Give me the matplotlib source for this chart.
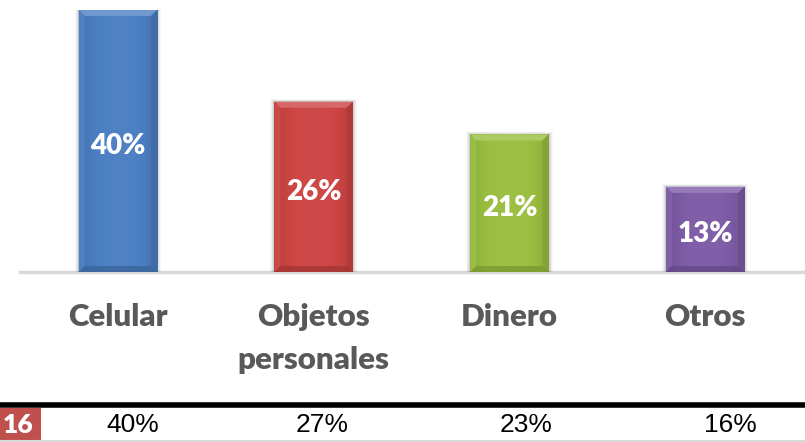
import numpy as np
from matplotlib import pyplot as plt
from matplotlib.patches import Rectangle, Polygon
from matplotlib.colors import to_rgb

categories = ["Celular", "Objetos\npersonales", "Dinero", "Otros"]
values = [40, 26, 21, 13]
labels = ["40%", "26%", "21%", "13%"]
colors = ["#4A7EC2", "#CC4442", "#99BE3F", "#7D5BA6"]
table_head = "16"
table_values = ["40%", "27%", "23%", "16%"]

W, H = 805, 442
fig = plt.figure(figsize=[W / 100, H / 100], dpi=100)
ax = fig.add_axes([20 / W, (H - 272) / H, 783 / W, (272 - 10) / H])
ax.set_xlim(-0.5, len(values) - 0.5)
ax.set_ylim(0, 40)
ax.axis("off")

bw = 0.4
x = np.arange(len(values))
font = "Lato"
heavy = 800


def shade(c, f):
    c = np.array(to_rgb(c))
    if f > 0:
        return tuple(c + (1 - c) * f)
    return tuple(c * (1 + f))


px_x = len(values) / 783  # data units per pixel in x
px_y = 40 / 262

for i, (v, c) in enumerate(zip(values, colors)):
    x0 = x[i] - bw / 2
    # soft shadow
    for k, a in [(4, 0.03), (3, 0.04), (2, 0.05), (1, 0.07)]:
        ax.add_patch(Rectangle((x0 - k * px_x, -k * px_y * 0.3), bw + 2 * k * px_x,
                               v + k * px_y, color="k", alpha=a, lw=0, zorder=1))
    bar = ax.bar(x[i], v, width=bw, color=c, zorder=2, lw=0)[0]
    # gentle horizontal gradient
    t = np.linspace(0, 1, 64)
    prof = 1 - 0.25 * np.abs(t - 0.5) ** 3 * 8
    img = np.array([[shade(c, (p - 1) * 0.6 + 0.03) for p in prof]])
    im = ax.imshow(img, extent=[x0, x0 + bw, 0, v], aspect="auto", zorder=3,
                   interpolation="bicubic")
    im.set_clip_path(bar)
    # bevel
    bx, by = 6 * px_x, 6 * px_y
    ax.add_patch(Polygon([[x0, v], [x0 + bw, v], [x0 + bw - bx, v - by], [x0 + bx, v - by]],
                         color=shade(c, 0.2), lw=0, zorder=4))
    ax.add_patch(Polygon([[x0, v], [x0 + bx, v - by], [x0 + bx, by], [x0, 0]],
                         color=shade(c, 0.05), lw=0, zorder=4, alpha=0.8))
    ax.add_patch(Polygon([[x0 + bw, v], [x0 + bw - bx, v - by], [x0 + bw - bx, by], [x0 + bw, 0]],
                         color=shade(c, -0.15), lw=0, zorder=4, alpha=0.8))
    ax.add_patch(Polygon([[x0, 0], [x0 + bx, by], [x0 + bw - bx, by], [x0 + bw, 0]],
                         color=shade(c, -0.2), lw=0, zorder=4, alpha=0.8))
    ax.text(x[i], v / 2 - 5 * px_y, labels[i], ha="center", va="center", color="white",
            fontsize=20, fontweight=heavy, family=font, zorder=5)

ax.axhline(0, color="#D9D9D9", lw=2.5, zorder=0, clip_on=False)

for i, cat in enumerate(categories):
    ax.text(x[i], -0.118, cat, transform=ax.get_xaxis_transform(), ha="center", va="top",
            color="#595959", fontsize=22.5, fontweight=heavy, family=font,
            linespacing=1.65)

# table row below the chart
fig.add_artist(plt.Line2D([0, 1], [1 - 404.5 / H, 1 - 404.5 / H], color="black", lw=4))
fig.add_artist(plt.Line2D([0, 1], [1 - 440.5 / H, 1 - 440.5 / H], color="#D9D9D9", lw=1.5))
fig.add_artist(Rectangle((0, 0), 41 / W, 1 - 408 / H, color="#C0504D", lw=0))
fig.text(18 / W, 1 - 425 / H, table_head, ha="center", va="center", color="white",
         fontsize=19, fontweight=heavy, family=font)
tx = [133, 322, 526, 730]
for xp, t in zip(tx, table_values):
    fig.text(xp / W, 1 - 425 / H, t, ha="center", va="center", color="black",
             fontsize=19, family="Liberation Sans")

plt.savefig("out.png", dpi=100)
